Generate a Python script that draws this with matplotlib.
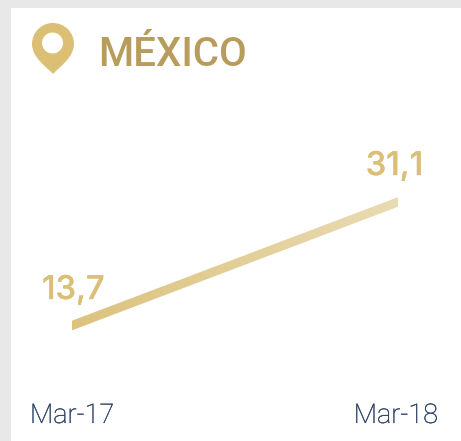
import numpy as np
import matplotlib
matplotlib.use("Agg")
import matplotlib.pyplot as plt
import matplotlib.patheffects as pe
from matplotlib.colors import LinearSegmentedColormap
from matplotlib.patches import Rectangle, PathPatch, Circle
from matplotlib.path import Path

categories = ["Mar-17", "Mar-18"]
values = [13.7, 31.1]
value_labels = ["13,7", "31,1"]
title = "MÉXICO"

W, H = 461, 441
GOLD = "#DBBF75"
TITLE = "#B89C5C"
NAVY = "#2C4266"
GREY = "#E8E8E8"

fig = plt.figure(figsize=(W / 100, H / 100), dpi=100, facecolor="white")

# background frame + pixel-space overlay
px = fig.add_axes([0, 0, 1, 1], zorder=0)
px.set_xlim(0, W); px.set_ylim(H, 0); px.axis("off")
px.add_patch(Rectangle((0, 0), W, 8, fc=GREY, ec="none"))
px.add_patch(Rectangle((0, 0), 11, H, fc=GREY, ec="none"))

# pin icon
cx, cy, r = 53.0, 44.0, 21.0
k = 0.5523 * r
verts = [(cx, 74),
         (cx - 5, 68), (cx - r, 58), (cx - r, cy),
         (cx - r, cy - k), (cx - k, cy - r), (cx, cy - r),
         (cx + k, cy - r), (cx + r, cy - k), (cx + r, cy),
         (cx + r, 58), (cx + 5, 68), (cx, 74),
         (cx, 74)]
codes = [Path.MOVETO] + [Path.CURVE4] * 12 + [Path.CLOSEPOLY]
px.add_patch(PathPatch(Path(verts, codes), fc=GOLD, ec="none"))
px.add_patch(Circle((52.5, 43), 10.5, fc="white", ec="none"))

px.text(98, 66, title, family="Roboto", weight="medium", fontsize=29,
        color=TITLE, ha="left", va="baseline")

# chart axes: mapped so the two categories and values land on the plot area
ax = fig.add_axes([0, 0, 1, 1], zorder=1)
ax.patch.set_alpha(0)
ax.axis("off")
x_px0, x_px1 = 72, 398
y_scale = (325.5 - 202.0) / (values[1] - values[0])
ax.set_xlim(-x_px0 / (x_px1 - x_px0), (W - x_px0) / (x_px1 - x_px0))
ax.set_ylim(values[0] - (H - 325.5) / y_scale, values[0] + 325.5 / y_scale)

x = np.arange(len(values))
y = np.array(values, dtype=float)
half = 4.8 / y_scale
band = ax.fill_between(x, y - half, y + half, color="none", lw=0)
cmap = LinearSegmentedColormap.from_list("g", ["#DCC27D", "#E9DBB3"])
xl, yl = ax.get_xlim(), ax.get_ylim()
im = ax.imshow(np.linspace(0, 1, 256).reshape(1, -1), cmap=cmap, aspect="auto",
               extent=(x[0], x[1], y[0] - 2 * half, y[1] + 2 * half), zorder=2)
im.set_clip_path(band.get_paths()[0], transform=ax.transData)
ax.set_xlim(xl); ax.set_ylim(yl)

# value labels
bold = [pe.withStroke(linewidth=0.25, foreground=GOLD)]
px.text(42, 299, value_labels[0], family="Inter", weight="medium", fontsize=23.5,
        color=GOLD, ha="left", va="baseline", path_effects=bold)
px.text(423, 175, value_labels[1], family="Inter", weight="medium", fontsize=23.5,
        color=GOLD, ha="right", va="baseline", path_effects=bold)

# category labels
dark = [pe.withStroke(linewidth=0.2, foreground=NAVY)]
px.text(30, 423, categories[0], family="Roboto", weight="light", fontsize=19.5,
        color=NAVY, ha="left", va="baseline", path_effects=dark)
px.text(438, 423, categories[1], family="Roboto", weight="light", fontsize=19.5,
        color=NAVY, ha="right", va="baseline", path_effects=dark)

fig.savefig("out.png", dpi=100, facecolor="white")
